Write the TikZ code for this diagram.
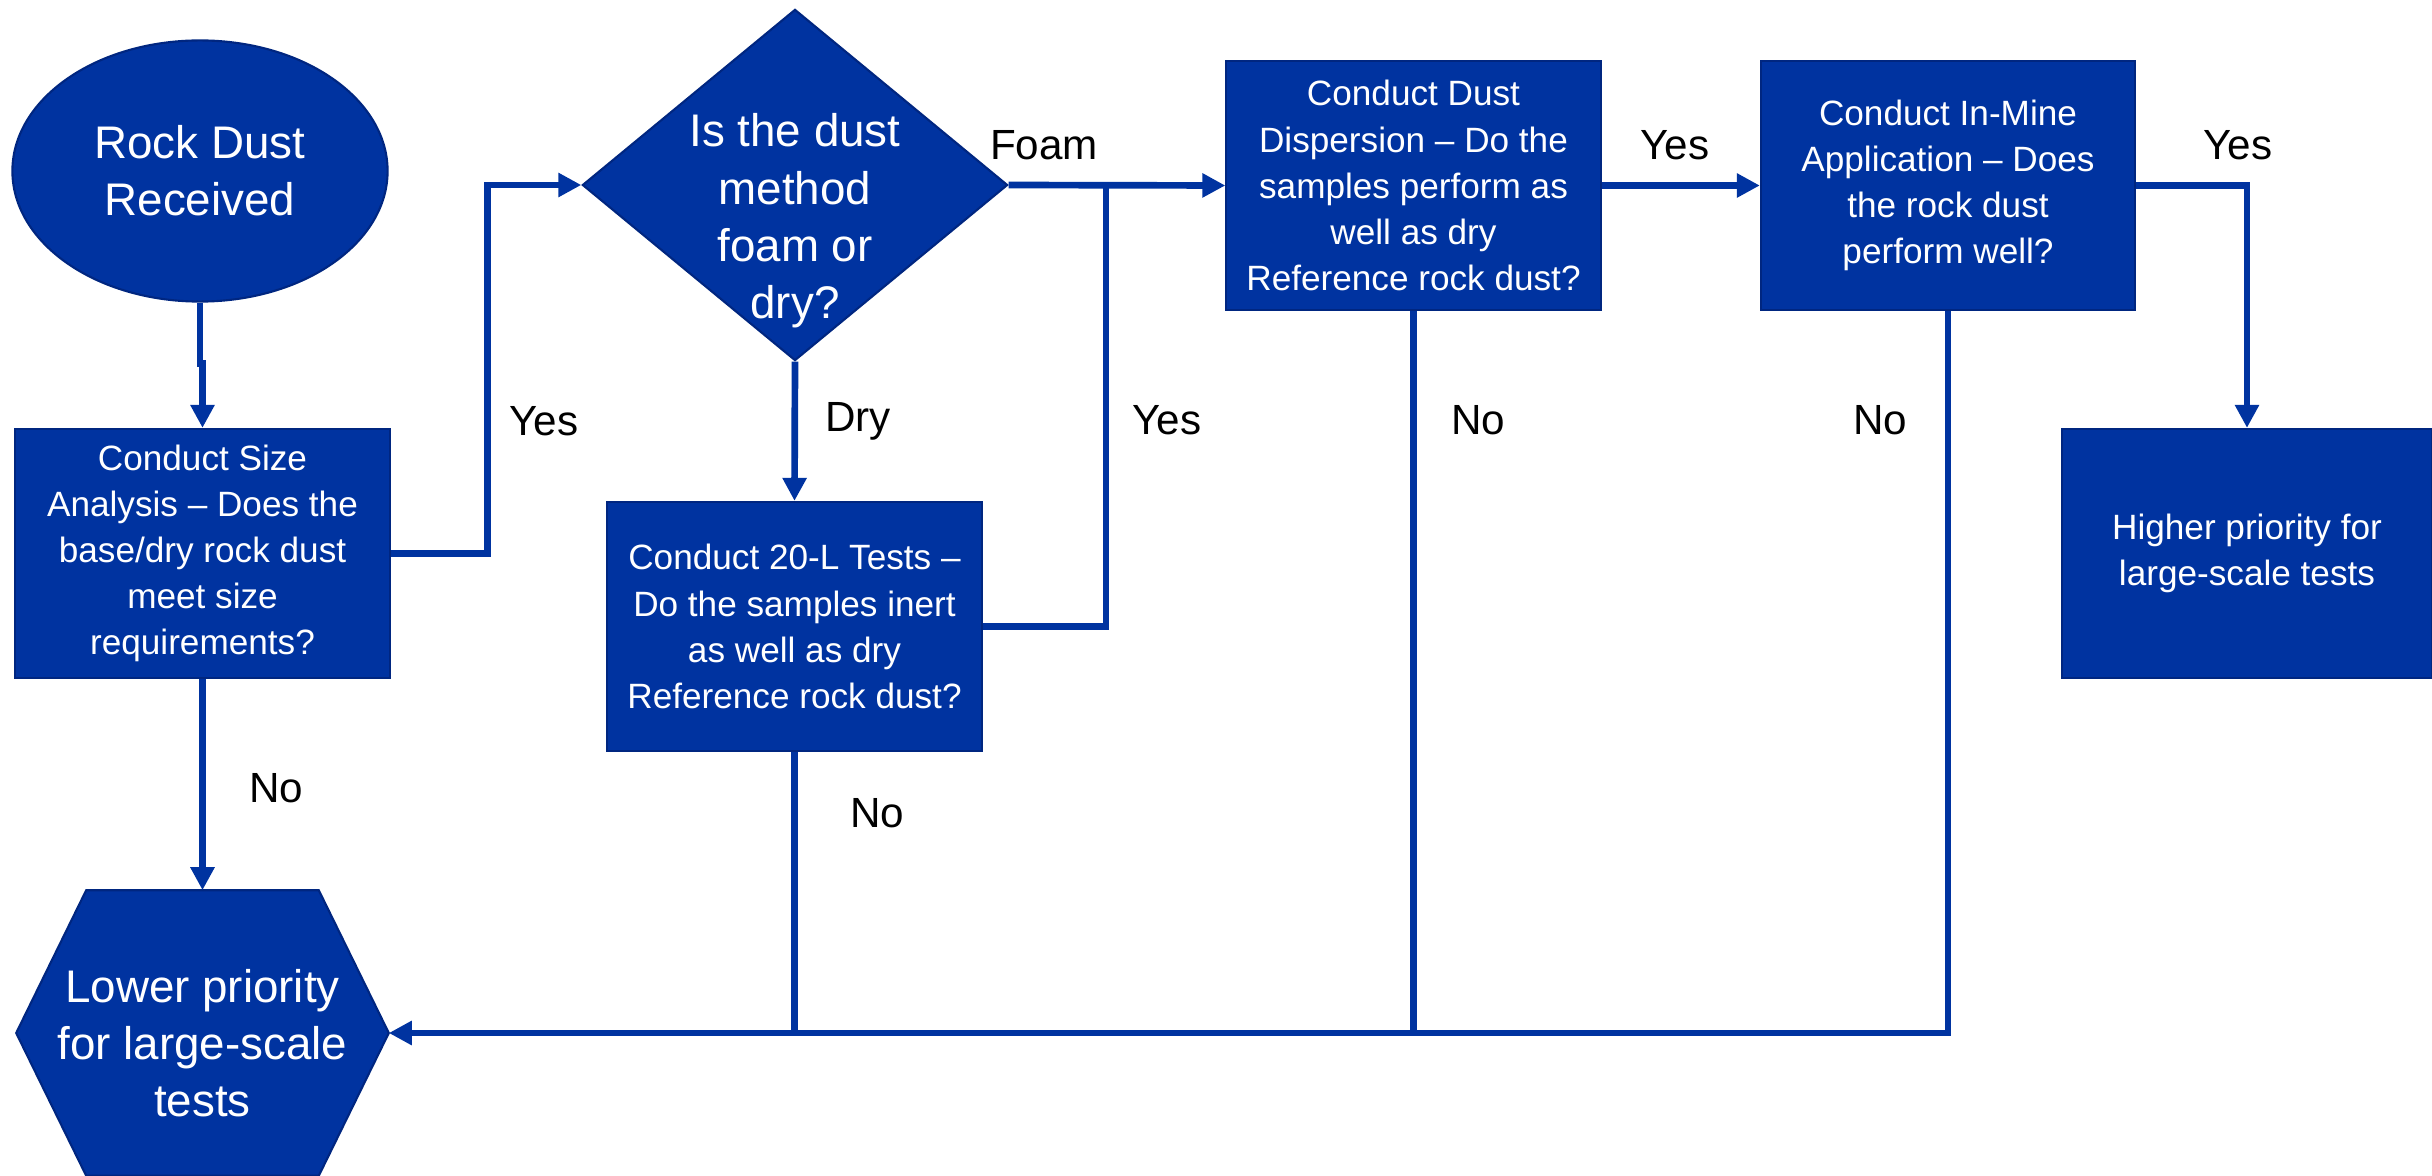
\documentclass[tikz,border=0pt]{standalone}
\usepackage{fontspec}
\setmainfont{Liberation Sans}
\usetikzlibrary{arrows.meta,positioning,shapes.geometric}
\definecolor{dustblue}{RGB}{0,51,160}
\definecolor{dustedge}{RGB}{0,38,128}

\begin{document}
\begin{tikzpicture}[
    x=0.01cm, y=-0.01cm,
    >={Triangle[length=0.23cm,width=0.23cm]},
    box/.style={
        rectangle,
        draw=dustedge,
        line width=0.6pt,
        fill=dustblue,
        text=white,
        minimum width=3.74cm,
        minimum height=2.49cm,
        inner sep=0pt,
        align=center,
        font=\fontsize{10}{13.1}\selectfont
    },
    decision/.style={
        diamond,
        draw=dustedge,
        line width=0.6pt,
        fill=dustblue,
        minimum width=4.25cm,
        minimum height=3.51cm,
        inner sep=0pt
    },
    big/.style={text=white, align=center, font=\fontsize{13}{16.3}\selectfont},
    lbl/.style={text=black, font=\fontsize{12}{14}\selectfont},
    flow/.style={draw=dustblue, line width=1.9pt}
]
\useasboundingbox (0,0) rectangle (2432,1176);

% shapes
\node[ellipse, draw=dustedge, line width=0.6pt, fill=dustblue, inner sep=0pt,
      minimum width=3.75cm, minimum height=2.61cm, big] (recv) at (200,171) {Rock Dust\\Received};
\node[box] (size) at (202.5,553.5) {Conduct Size\\Analysis – Does the\\base/dry rock dust\\meet size\\requirements?};
\node[decision] (ask) at (795,185) {};
\node[big] (asktext) at (795,221) {Is the dust\\method\\foam or\\dry?};
\node[box] (twenty) at (794.5,626.5) {Conduct 20-L Tests –\\Do the samples inert\\as well as dry\\Reference rock dust?};
\node[box] (dust) at (1413.5,185.5) {Conduct Dust\\Dispersion – Do the\\samples perform as\\well as dry\\Reference rock dust?};
\node[box] (mine) at (1948,185.5) {Conduct In-Mine\\Application – Does\\the rock dust\\perform well?};
\node[box, minimum width=3.70cm] (high) at (2247,553.5) {Higher priority for\\large-scale tests};
\node[rectangle, inner sep=0pt, minimum width=3.71cm, minimum height=2.84cm] (low) at (202.5,1033) {};
\filldraw[fill=dustblue, draw=dustedge, line width=0.6pt]
    (low.west) -- ([xshift=0.7cm]low.north west) -- ([xshift=-0.7cm]low.north east) -- (low.east)
    -- ([xshift=-0.7cm]low.south east) -- ([xshift=0.7cm]low.south west) -- cycle;
\node[big] (lowtext) at (202.5,1043) {Lower priority\\for large-scale\\tests};
\coordinate (merge) at (1106,185);

% connectors
\draw[flow, ->] (recv.south) -- ++(0,61) -| (size.north);
\draw[flow, ->] (size.east) -- ++(97,0) |- (ask.west);
\draw[flow, ->] (ask.east) -- (dust.west);
\draw[flow, ->] (ask.south) -- (twenty.north);
\draw[flow] (twenty.east) -| (merge);
\draw[flow, ->] (dust.east) -- (mine.west);
\draw[flow, ->] (mine.east) -| (high.north);
\draw[flow, ->] (size.south) -- (low.north);
\draw[flow, ->] (mine.south) |- (low.east);
\draw[flow] (dust.south) -- (dust.south |- low.east);
\draw[flow] (twenty.south) -- (twenty.south |- low.east);

% labels
\node[lbl] (yesA) at (544,421) {Yes};
\node[lbl] (dry) at (858,421) {Dry};
\node[lbl] (foam) at (1044,145) {Foam};
\node[lbl] (yesB) at (1167,420) {Yes};
\node[lbl] (yesC) at (1675,145) {Yes};
\node[lbl] (yesD) at (2238,145) {Yes};
\node[lbl] (noA) at (276,788) {No};
\node[lbl] (noB) at (877,813) {No};
\node[lbl] (noC) at (1478,420) {No};
\node[lbl] (noD) at (1880,420) {No};
\end{tikzpicture}
\end{document}
